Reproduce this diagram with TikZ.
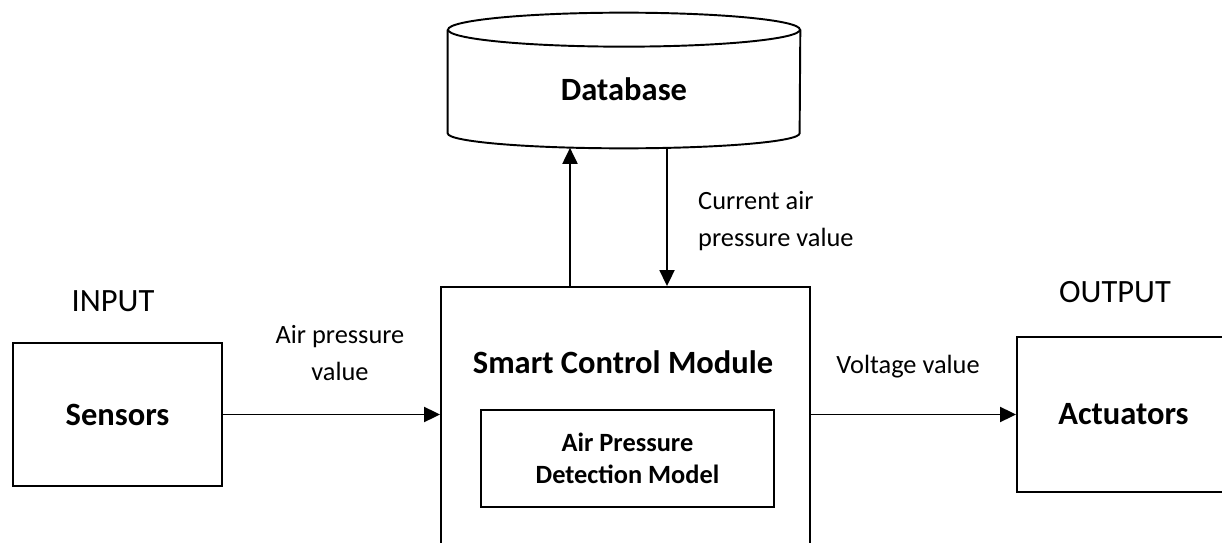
\documentclass[tikz,border=0pt]{standalone}
\usepackage{fontspec}
\setmainfont{Carlito}
\usetikzlibrary{arrows.meta,positioning}

\begin{document}
\begin{tikzpicture}[x=0.02cm, y=-0.02cm,
    block/.style={draw, line width=1.1pt, inner sep=0pt},
    flow/.style={line width=1.1pt, -{Triangle[length=0.32cm, width=0.3cm]}},
    big/.style={font=\fontsize{18.5}{22}\selectfont\bfseries},
    small/.style={font=\fontsize{15}{21}\selectfont}]

    % Fix the page to the size of the picture
    \useasboundingbox (0,0) rectangle (1222,543);

    % Draw the blocks
    \node[block, big, minimum width=4.18cm, minimum height=2.86cm] (sensors) at (117.5,414.5) {Sensors};
    \node[block, minimum width=7.38cm, minimum height=5.66cm] (smc) at (625.5,428.5) {};
    \node[big] (smcText) at (623,362) {Smart Control Module};
    \node[block, align=center, font=\fontsize{15}{18.2}\selectfont\bfseries,
          minimum width=5.86cm, minimum height=1.94cm] (model) at (627.5,458.5) {Air Pressure\\Detection Model};
    \node[block, big, minimum width=4.26cm, minimum height=3.1cm] (act) at (1123.5,414.5) {Actuators};

    % Draw the database as a cylinder round its node
    \node[big, minimum width=7.04cm, minimum height=2.36cm, inner sep=0pt] (db) at (624,89) {Database};
    \draw[line width=1.1pt] (db.north) ellipse [x radius=3.52cm, y radius=0.34cm];
    \draw[line width=1.1pt] (db.north west) -- ([yshift=0.3cm]db.south west)
        arc[start angle=180, end angle=360, x radius=3.52cm, y radius=0.3cm] -- (db.north east);

    % Labels of the sides
    \node[small, font=\fontsize{18.5}{22}\selectfont] (input) at (113,301) {INPUT};
    \node[small, font=\fontsize{18.5}{22}\selectfont] (output) at (1115,292) {OUTPUT};

    % Draw the connectors
    \coordinate (upx) at (570,0);
    \coordinate (downx) at (667,0);
    \draw[flow] (sensors.east) -- (smc.west |- sensors.east);
    \draw[flow] (smc.east |- act.west) -- (act.west);
    \draw[flow] (smc.north -| upx) -- ([yshift=0.01cm]db.south -| upx);
    \draw[flow] (db.south -| downx) -- (smc.north -| downx);

    % Connector labels
    \node[small, align=center] (inLbl) at (340,353) {Air pressure\\value};
    \node[small] (outLbl) at (908,367) {Voltage value};
    \node[small, align=left, anchor=west] (dbLbl) at (692,221) {Current air\\pressure value};

\end{tikzpicture}
\end{document}
